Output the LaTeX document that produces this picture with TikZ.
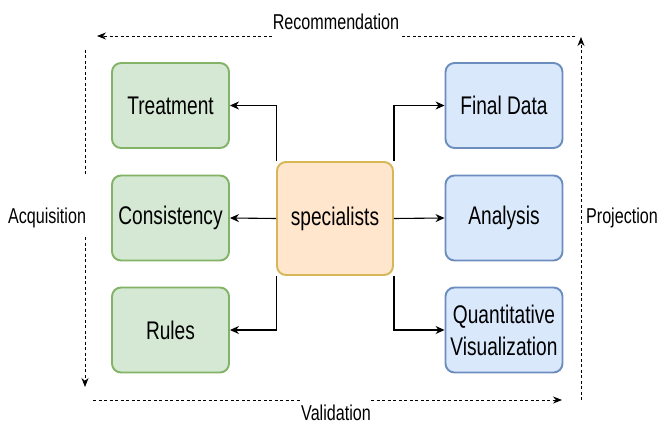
\documentclass[tikz,border=0pt]{standalone}
\usepackage{fontspec}
\setmainfont{Liberation Sans}[FakeStretch=0.75]
\usepackage{tikz}
\usetikzlibrary{arrows.meta}
\definecolor{greenfill}{HTML}{D5E8D4}
\definecolor{greenline}{HTML}{82B366}
\definecolor{bluefill}{HTML}{DAE8FC}
\definecolor{blueline}{HTML}{6C8EBF}
\definecolor{specfill}{HTML}{FFE6CC}
\definecolor{specline}{HTML}{D6B656}

\begin{document}
\begin{tikzpicture}[x=1pt, y=-1pt,
  box/.style={line width=1.9pt, rounded corners=9pt, minimum width=117pt,
    minimum height=85pt, inner sep=1pt, align=center,
    font=\fontsize{25.5}{32}\selectfont},
  greenbox/.style={box, fill=greenfill, draw=greenline},
  bluebox/.style={box, fill=bluefill, draw=blueline},
  specbox/.style={box, fill=specfill, draw=specline, minimum width=116pt, minimum height=113pt},
  link/.style={-{Stealth[length=9pt,width=8pt]}, line width=1.1pt},
  flow/.style={dash pattern=on 3pt off 2.5pt, line width=0.8pt},
  flowend/.style={flow, -{Stealth[length=9pt,width=7pt]}},
  lbl/.style={font=\fontsize{21.5}{26}\selectfont, inner sep=0pt}]
  \useasboundingbox (0,0) rectangle (658,425);

  % boxes
  \node[greenbox] (treat) at (170.5,105.5) {Treatment};
  \node[greenbox] (cons)  at (170.5,218)   {Consistency};
  \node[greenbox] (rules) at (170.5,330)   {Rules};
  \node[specbox]  (spec)  at (335,218.5)   {specialists};
  \node[bluebox]  (final) at (504,105.5)   {Final Data};
  \node[bluebox]  (anal)  at (504,218)     {Analysis};
  \node[bluebox]  (quant) at (504,330)     {Quantitative\\Visualization};

  % connectors
  \draw[link] (spec.north west) |- (treat.east);
  \draw[link] (spec.west) -- (cons.east);
  \draw[link] (spec.south west) |- (rules.east);
  \draw[link] (spec.north east) |- (final.west);
  \draw[link] (spec.east) -- (anal.west);
  \draw[link] (spec.south east) |- (quant.west);

  % outer loop
  \coordinate (recR) at (575,36);  \coordinate (recA) at (401,36);
  \coordinate (recB) at (272,36);  \coordinate (recL) at (97,36);
  \coordinate (acqT) at (85,50);   \coordinate (acqA) at (85,176);
  \coordinate (acqB) at (85,237);  \coordinate (acqE) at (85,387);
  \coordinate (valL) at (93,400);  \coordinate (valA) at (300,400);
  \coordinate (valB) at (371,400); \coordinate (valR) at (562,400);
  \coordinate (proB) at (581,400); \coordinate (proT) at (581,37);

  \draw[flow] (recR) -- (recA);
  \draw[flowend] (recB) -- (recL);
  \draw[flow] (acqT) -- (acqA);
  \draw[flowend] (acqB) -- (acqE);
  \draw[flow] (valL) -- (valA);
  \draw[flowend] (valB) -- (valR);
  \draw[flowend] (proB) -- (proT);

  \node[lbl] (recom) at (336,22)  {Recommendation};
  \node[lbl] (acq)   at (47,218)  {Acquisition};
  \node[lbl] (valid) at (336,413) {Validation};
  \node[lbl] (proj)  at (622,218) {Projection};
\end{tikzpicture}
\end{document}
